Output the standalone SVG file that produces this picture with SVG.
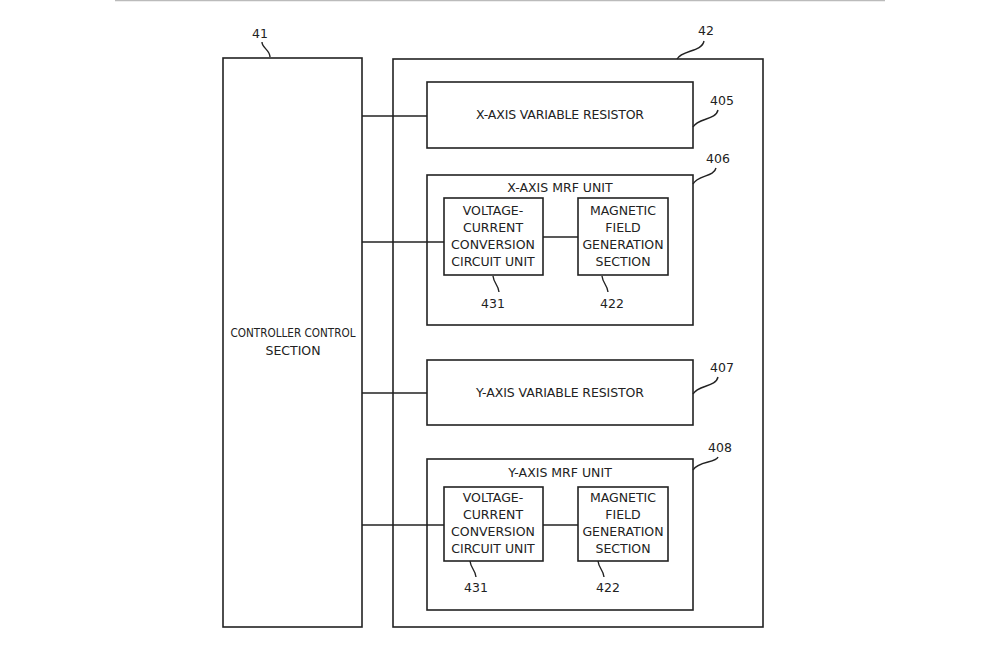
<svg xmlns="http://www.w3.org/2000/svg" width="1000" height="667" viewBox="0 0 1000 667">
<style>
.b{fill:#fff;stroke:#222;stroke-width:1.6}
.l{fill:none;stroke:#222;stroke-width:1.4}
text{font-family:"DejaVu Sans","Liberation Sans",sans-serif;font-size:12.5px;fill:#222;text-anchor:middle}
</style>
<rect width="1000" height="667" fill="#fff"/>
<line x1="115" y1="0.5" x2="885" y2="0.5" stroke="#bbb" stroke-width="1.5"/>
<g id="n41"><rect class="b" x="223" y="58" width="139" height="569"/><text x="293" y="337" textLength="125" lengthAdjust="spacingAndGlyphs">CONTROLLER CONTROL</text><text x="293" y="355">SECTION</text>
<text x="260" y="38">41</text><path class="l" d="M270 57 C270 50 262 48 262 42"/></g>
<g id="n42"><rect class="b" x="393" y="59" width="370" height="568"/><text x="706" y="35">42</text><path class="l" d="M677 59 C682 50 702 52 704 41"/></g>
<g id="n405"><rect class="b" x="427" y="82" width="266" height="66"/><text x="560" y="119" textLength="168" lengthAdjust="spacing">X-AXIS VARIABLE RESISTOR</text><text x="722" y="105">405</text><path class="l" d="M693 127 C698 118 716 120 718 110"/></g>
<g id="n406"><rect class="b" x="427" y="175" width="266" height="150"/><text x="560" y="192">X-AXIS MRF UNIT</text><text x="718" y="163">406</text><path class="l" d="M693 184 C698 175 714 177 716 168"/></g>
<g id="n431a"><rect class="b" x="444" y="198" width="99" height="77"/><text x="493" y="215">VOLTAGE-</text><text x="493" y="232">CURRENT</text><text x="493" y="249">CONVERSION</text><text x="493" y="266">CIRCUIT UNIT</text><text x="493" y="308">431</text><path class="l" d="M493 276 C494 284 498 284 499 292"/></g>
<g id="n422a"><rect class="b" x="578" y="198" width="90" height="77"/><text x="623" y="215">MAGNETIC</text><text x="623" y="232">FIELD</text><text x="623" y="249">GENERATION</text><text x="623" y="266">SECTION</text><text x="612" y="308">422</text><path class="l" d="M602 276 C603 284 607 284 608 292"/></g>
<g id="n407"><rect class="b" x="427" y="360" width="266" height="65"/><text x="560" y="397" textLength="168" lengthAdjust="spacing">Y-AXIS VARIABLE RESISTOR</text><text x="722" y="372">407</text><path class="l" d="M693 394 C698 385 716 387 718 377"/></g>
<g id="n408"><rect class="b" x="427" y="459" width="266" height="151"/><text x="560" y="477">Y-AXIS MRF UNIT</text><text x="720" y="452">408</text><path class="l" d="M693 470 C698 461 716 463 718 457"/></g>
<g id="n431b"><rect class="b" x="444" y="487" width="99" height="74"/><text x="493" y="502">VOLTAGE-</text><text x="493" y="519">CURRENT</text><text x="493" y="536">CONVERSION</text><text x="493" y="553">CIRCUIT UNIT</text><text x="476" y="592">431</text><path class="l" d="M470 561 C471 569 475 569 476 577"/></g>
<g id="n422b"><rect class="b" x="578" y="487" width="90" height="74"/><text x="623" y="502">MAGNETIC</text><text x="623" y="519">FIELD</text><text x="623" y="536">GENERATION</text><text x="623" y="553">SECTION</text><text x="608" y="592">422</text><path class="l" d="M598 561 C599 569 603 569 604 577"/></g>
<g id="connectors">
<line class="l" x1="362" y1="116" x2="427" y2="116"/>
<line class="l" x1="362" y1="242" x2="444" y2="242"/>
<line class="l" x1="543" y1="237" x2="578" y2="237"/>
<line class="l" x1="362" y1="393" x2="427" y2="393"/>
<line class="l" x1="362" y1="525" x2="444" y2="525"/>
<line class="l" x1="543" y1="525" x2="578" y2="525"/>
</g>
</svg>
